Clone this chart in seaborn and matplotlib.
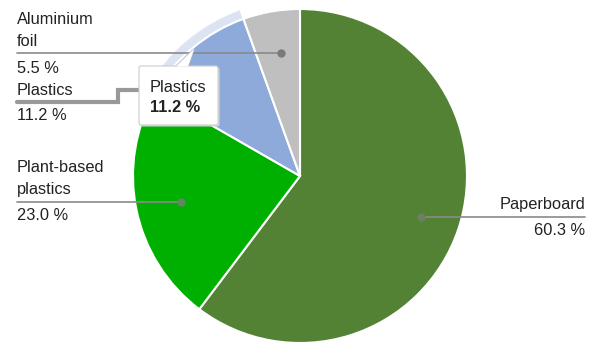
import matplotlib
matplotlib.use("Agg")
import matplotlib.pyplot as plt
import seaborn as sns
from matplotlib.patches import Wedge, FancyBboxPatch, Polygon
import numpy as np

categories = ["Paperboard", "Plant-based plastics", "Plastics", "Aluminium foil"]
values = [60.3, 23.0, 11.2, 5.5]
value_labels = ["60.3 %", "23.0 %", "11.2 %", "5.5 %"]

sns.set_theme(style="white")
plt.rcParams["font.family"] = ["Liberation Sans", "DejaVu Sans"]

colors = sns.color_palette(["#548235", "#00b000", "#8eaadb", "#bfbfbf"])

W, H = 597, 342
fig = plt.figure(figsize=(W / 100, H / 100), dpi=100)
ax = fig.add_axes([0, 0, 1, 1])

def Y(y):
    return H - y

cx, cy, R = 300, Y(176), 167
wedges, _ = ax.pie(values, colors=colors, startangle=90, counterclock=False,
                   center=(cx, cy), radius=R,
                   wedgeprops=dict(edgecolor="white", linewidth=1.5))

# highlight halo on Plastics slice
tot = sum(values)
cum = np.cumsum([0] + values) / tot
i = 2
t1 = 90 - 360 * cum[i + 1]
t2 = 90 - 360 * cum[i]
ax.add_patch(Wedge((cx, cy), R + 10, t1, t2, width=10, facecolor="#dce4f4",
                   edgecolor="white", linewidth=1.0, zorder=0.5))

ax.set_xlim(0, W)
ax.set_ylim(0, H)
ax.set_aspect("equal")
ax.axis("off")

fs = 11.8
lc = "#8a8a8a"
tc = "#222222"

# Aluminium foil
ax.text(17, Y(24), "Aluminium", fontsize=fs, color=tc, va="baseline")
ax.text(17, Y(45.5), "foil", fontsize=fs, color=tc, va="baseline")
ax.plot([17, 281], [Y(53), Y(53)], color=lc, lw=1.2, zorder=3)
ax.plot([281], [Y(53)], "o", color="#7a7a7a", ms=5, zorder=3)
ax.text(17, Y(73), value_labels[3], fontsize=fs, color=tc, va="baseline")

# Plastics (highlighted)
ax.text(17, Y(95), "Plastics", fontsize=fs, color=tc, va="baseline")
ax.plot([17, 118, 118, 145], [Y(102), Y(102), Y(90), Y(90)], color="#999999",
        lw=3, zorder=3, solid_joinstyle="miter")
ax.text(17, Y(119.5), value_labels[2], fontsize=fs, color=tc, va="baseline")

# Plant-based plastics
ax.text(17, Y(172), "Plant-based", fontsize=fs, color=tc, va="baseline")
ax.text(17, Y(194), "plastics", fontsize=fs, color=tc, va="baseline")
ax.plot([17, 181], [Y(202), Y(202)], color=lc, lw=1.2, zorder=3)
ax.plot([181], [Y(202)], "o", color="#5e8a5e", ms=5, zorder=3)
ax.text(17, Y(220), value_labels[1], fontsize=fs, color=tc, va="baseline")

# Paperboard
ax.text(585, Y(209), "Paperboard", fontsize=fs, color=tc, va="baseline", ha="right")
ax.plot([421, 585], [Y(217), Y(217)], color=lc, lw=1.2, zorder=3)
ax.plot([421], [Y(217)], "o", color="#6e7f63", ms=5, zorder=3)
ax.text(585, Y(235), value_labels[0], fontsize=fs, color=tc, va="baseline", ha="right")

# Tooltip
bx0, by0, bx1, by1 = 139, 66, 218, 125
ax.add_patch(FancyBboxPatch((bx0 + 1.5, Y(by1) - 1.5), bx1 - bx0, by1 - by0,
                            boxstyle="round,pad=0,rounding_size=2",
                            facecolor="#d8d8d8", edgecolor="none", zorder=5))
ax.add_patch(FancyBboxPatch((bx0, Y(by1)), bx1 - bx0, by1 - by0,
                            boxstyle="round,pad=0,rounding_size=2",
                            facecolor="white", edgecolor="#cccccc", linewidth=0.8, zorder=6))
ax.add_patch(Polygon([(176, Y(by0) - 0.5), (194, Y(49)), (188, Y(by0) - 0.5)],
                     closed=True, facecolor="white", edgecolor="none", zorder=7))
ax.plot([176, 194, 188], [Y(by0), Y(49), Y(by0)], color="#cccccc", lw=0.8, zorder=6)
ax.text(150, Y(92), "Plastics", fontsize=fs, color=tc, va="baseline", zorder=8)
ax.text(150, Y(112), value_labels[2], fontsize=fs, color=tc, va="baseline",
        fontweight="bold", zorder=8)

fig.savefig("out.png", dpi=100)
